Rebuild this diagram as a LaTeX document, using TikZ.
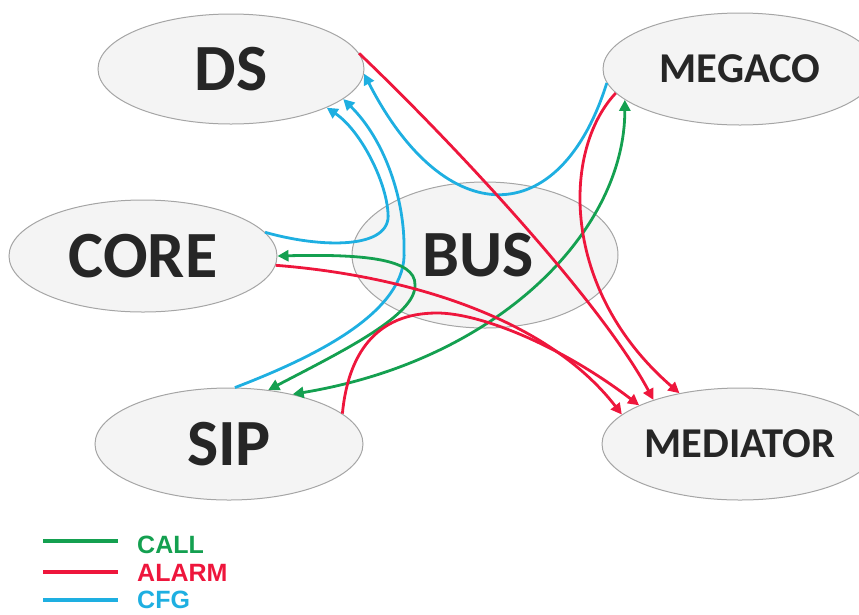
\documentclass[tikz,border=0pt]{standalone}
\usepackage{fontspec}
\setmainfont{Carlito}
\newfontfamily\legendfont{Liberation Sans}
\usetikzlibrary{shapes.geometric,arrows.meta}
\definecolor{callc}{RGB}{20,160,80}
\definecolor{alarmc}{RGB}{238,22,60}
\definecolor{cfgc}{RGB}{30,175,225}
\definecolor{nodefill}{RGB}{244,244,244}
\definecolor{nodeborder}{RGB}{165,165,165}
\definecolor{textc}{RGB}{38,38,38}
\begin{document}
\begin{tikzpicture}[x=1pt,y=-1pt,
  unit/.style={ellipse, draw=nodeborder, fill=nodefill, line width=1pt, inner sep=0pt, text=textc},
  bigtxt/.style={font=\fontsize{66}{66}\selectfont\bfseries},
  smalltxt/.style={font=\fontsize{42.5}{42.5}\selectfont\bfseries},
  link/.style={line width=2.8pt},
  tipend/.style={-{Triangle[length=11pt,width=11pt]}},
  tipboth/.style={{Triangle[length=11pt,width=11pt]}-{Triangle[length=11pt,width=11pt]}},
  legline/.style={line width=4.5pt},
  legtxt/.style={anchor=base west, inner sep=0pt, font=\legendfont\bfseries\fontsize{25}{25}\selectfont}
]
\useasboundingbox (0,0) rectangle (859,614);
\clip (0,0) rectangle (859,614);

% nodes
\node[unit, bigtxt, minimum width=266pt, minimum height=110pt] (ds) at (231,69) {DS};
\node[unit, smalltxt, minimum width=274pt, minimum height=112pt] (meg) at (740,69) {MEGACO};
\node[unit, bigtxt, minimum width=268pt, minimum height=112pt] (core) at (143,256) {CORE};
\node[unit, bigtxt, minimum width=266pt, minimum height=146pt] (bus) at (485,255) {\hspace*{-14pt}BUS};
\node[unit, bigtxt, minimum width=268pt, minimum height=112pt] (sip) at (229,444) {SIP};
\node[unit, smalltxt, minimum width=276pt, minimum height=112pt] (med) at (740,444) {MEDIATOR};

% CFG
\draw[link, cfgc, tipend] (meg.186) .. controls (560,232) and (445,232) .. (ds.-2);
\draw[link, cfgc, tipend] (core.11) .. controls (320,248) and (392,250) .. (388,213)
      .. controls (386,180) and (360,130) .. (ds.-22);
\draw[link, cfgc, tipend] (sip.84) .. controls (320,355) and (408,310) .. (404,250)
      .. controls (405,200) and (385,140) .. (ds.-15);

% CALL
\draw[link, callc, tipboth] (core.0) .. controls (360,254) and (416,258) .. (415,285)
      .. controls (416,315) and (345,350) .. (sip.54);
\draw[link, callc, tipboth] (meg.195) .. controls (625,230) and (500,360) .. (sip.38);

% ALARM
\draw[link, alarmc, tipend] (ds.7) .. controls (450,140) and (600,300) .. (med.153);
\draw[link, alarmc, tipend] (meg.191) .. controls (562,150) and (560,290) .. (med.140);
\draw[link, alarmc, tipend] (core.-4) .. controls (400,275) and (545,315) .. (med.166);
\draw[link, alarmc, tipend] (sip.15) .. controls (348,355) and (375,313) .. (437,313)
      .. controls (480,313) and (560,345) .. (med.159);

% legend
\draw[legline, callc] (43,541) -- (118,541);
\draw[legline, alarmc] (43,572) -- (118,572);
\draw[legline, cfgc] (43,600) -- (118,600);
\node[legtxt, text=callc] (lcall) at (137,553) {CALL};
\node[legtxt, text=alarmc] (lalarm) at (137,581) {ALARM};
\node[legtxt, text=cfgc] (lcfg) at (137,608) {CFG};
\end{tikzpicture}
\end{document}
